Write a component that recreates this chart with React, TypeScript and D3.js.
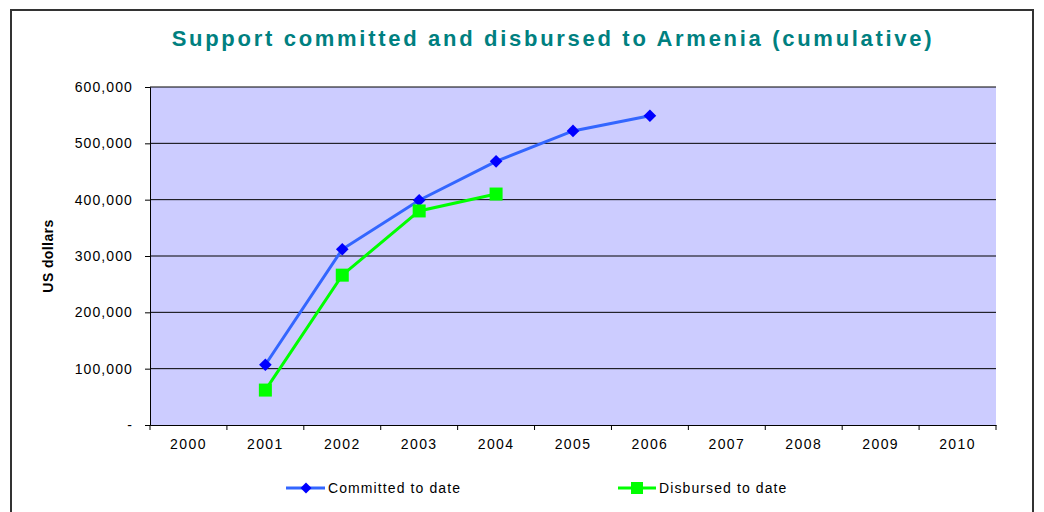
import React, { useEffect, useRef } from 'react';
import * as d3 from 'd3';

const years = ['2000', '2001', '2002', '2003', '2004', '2005', '2006', '2007', '2008', '2009', '2010'];
const committedYears = ['2001', '2002', '2003', '2004', '2005', '2006'];
const committedValues = [107000, 312000, 399000, 468000, 522000, 549000];
const disbursedYears = ['2001', '2002', '2003', '2004'];
const disbursedValues = [62000, 266000, 380000, 410000];
const yTicks = [0, 100000, 200000, 300000, 400000, 500000, 600000];

interface Pt { year: string; value: number; }

export default function App() {
  const svgRef = useRef<SVGSVGElement>(null);

  useEffect(() => {
    if (!svgRef.current) return;
    const svg = d3.select(svgRef.current);
    svg.selectAll('*').remove();

    const font = '"Liberation Sans", Arial, sans-serif';
    const left = 150, right = 996, top = 87, bottom = 425;

    // outer frame
    svg.append('path')
      .attr('d', `M11,520 L11,10 L1033,10 L1033,520`)
      .attr('fill', 'none')
      .attr('stroke', '#333')
      .attr('stroke-width', 2);

    svg.append('text')
      .attr('x', 553).attr('y', 46)
      .attr('text-anchor', 'middle')
      .attr('font-family', font)
      .attr('font-weight', 'bold')
      .attr('font-size', 22)
      .attr('letter-spacing', 2.7)
      .attr('fill', '#008080')
      .text('Support committed and disbursed to Armenia (cumulative)');

    const x = d3.scaleBand().domain(years).range([left, right]);
    const y = d3.scaleLinear().domain([0, 600000]).range([bottom, top]);

    svg.append('rect')
      .attr('x', left).attr('y', top)
      .attr('width', right - left).attr('height', bottom - top)
      .attr('fill', '#CCCCFF');

    // gridlines
    svg.append('g').selectAll('line')
      .data(yTicks.filter(t => t > 0))
      .enter().append('line')
      .attr('x1', left).attr('x2', right)
      .attr('y1', d => y(d)).attr('y2', d => y(d))
      .attr('stroke', '#000').attr('stroke-width', 1);

    // y axis
    const yAxis = svg.append('g')
      .attr('transform', `translate(${left},0)`)
      .call(d3.axisLeft(y).tickValues(yTicks).tickSize(5).tickPadding(12)
        .tickFormat(d => (+d === 0 ? '-' : d3.format(',')(+d))));
    yAxis.selectAll('path, line').attr('stroke', '#000');
    yAxis.selectAll('text').attr('font-family', font).attr('font-size', 14)
      .attr('letter-spacing', 1.1).attr('fill', '#000');

    // x axis
    const xAxis = svg.append('g')
      .attr('transform', `translate(0,${bottom})`)
      .call(d3.axisBottom(x).tickSize(0).tickPadding(14));
    xAxis.select('path').attr('stroke', '#000');
    xAxis.selectAll('text').attr('font-family', font).attr('font-size', 14)
      .attr('letter-spacing', 1.4).attr('fill', '#000');
    svg.append('g').selectAll('line')
      .data(years.concat(['end']))
      .enter().append('line')
      .attr('x1', (d, i) => left + i * x.bandwidth())
      .attr('x2', (d, i) => left + i * x.bandwidth())
      .attr('y1', bottom).attr('y2', bottom + 5)
      .attr('stroke', '#000');

    svg.append('text')
      .attr('transform', `translate(53,${(top + bottom) / 2}) rotate(-90)`)
      .attr('text-anchor', 'middle')
      .attr('font-family', font)
      .attr('font-weight', 'bold')
      .attr('font-size', 14)
      .attr('letter-spacing', 0.4)
      .text('US dollars');

    const cx = (yr: string) => (x(yr) as number) + x.bandwidth() / 2;
    const line = d3.line<Pt>().x(d => cx(d.year)).y(d => y(d.value));

    const committed: Pt[] = committedYears.map((yr, i) => ({ year: yr, value: committedValues[i] }));
    const disbursed: Pt[] = disbursedYears.map((yr, i) => ({ year: yr, value: disbursedValues[i] }));

    svg.append('path').datum(committed)
      .attr('fill', 'none').attr('stroke', '#3366FF').attr('stroke-width', 3).attr('d', line);
    svg.append('path').datum(disbursed)
      .attr('fill', 'none').attr('stroke', '#00FF00').attr('stroke-width', 3).attr('d', line);

    svg.append('g').selectAll('path')
      .data(committed).enter().append('path')
      .attr('transform', d => `translate(${cx(d.year)},${y(d.value)}) rotate(45)`)
      .attr('d', d3.symbol().type(d3.symbolSquare).size(80)() as string)
      .attr('fill', '#0000FF');

    svg.append('g').selectAll('rect')
      .data(disbursed).enter().append('rect')
      .attr('x', d => cx(d.year) - 6.5).attr('y', d => y(d.value) - 6.5)
      .attr('width', 13).attr('height', 13)
      .attr('fill', '#00FF00');

    // legend
    const lg = svg.append('g');
    lg.append('line').attr('x1', 286).attr('x2', 325).attr('y1', 488).attr('y2', 488)
      .attr('stroke', '#3366FF').attr('stroke-width', 3);
    lg.append('path').attr('transform', 'translate(306,488) rotate(45)')
      .attr('d', d3.symbol().type(d3.symbolSquare).size(60)() as string).attr('fill', '#0000FF');
    lg.append('text').attr('x', 328).attr('y', 493)
      .attr('font-family', font).attr('font-size', 14).attr('letter-spacing', 1.1)
      .text('Committed to date');
    lg.append('line').attr('x1', 618).attr('x2', 656).attr('y1', 488).attr('y2', 488)
      .attr('stroke', '#00FF00').attr('stroke-width', 3);
    lg.append('rect').attr('x', 631).attr('y', 482).attr('width', 12).attr('height', 12).attr('fill', '#00FF00');
    lg.append('text').attr('x', 659).attr('y', 493)
      .attr('font-family', font).attr('font-size', 14).attr('letter-spacing', 1.1)
      .text('Disbursed to date');
  }, []);

  return (
    <svg ref={svgRef} width={1044} height={512}
      style={{ position: 'absolute', left: 0, top: 0, background: '#fff' }} />
  );
}
